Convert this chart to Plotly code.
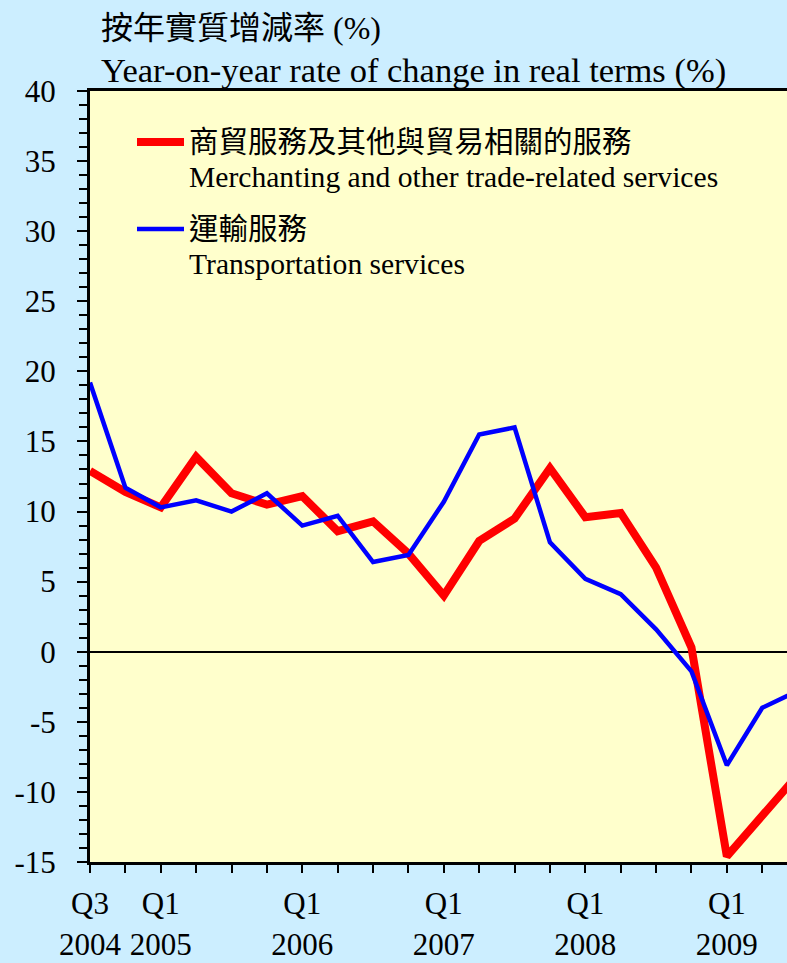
## 商貿服務 / 運輸服務 按年實質增減率
import plotly.graph_objects as go

quarters = ["Q3 2004", "Q4 2004", "Q1 2005", "Q2 2005", "Q3 2005", "Q4 2005",
            "Q1 2006", "Q2 2006", "Q3 2006", "Q4 2006", "Q1 2007", "Q2 2007",
            "Q3 2007", "Q4 2007", "Q1 2008", "Q2 2008", "Q3 2008", "Q4 2008",
            "Q1 2009", "Q2 2009", "Q3 2009"]
merchanting = [12.9, 11.4, 10.3, 13.9, 11.3, 10.5, 11.1, 8.6, 9.3, 7.0, 4.0,
               7.9, 9.5, 13.1, 9.6, 9.9, 6.0, 0.3, -14.6, -11.6, -8.8]
transport = [19.2, 11.7, 10.3, 10.8, 10.0, 11.3, 9.0, 9.7, 6.4, 6.9, 10.7,
             15.5, 16.0, 7.8, 5.2, 4.1, 1.6, -1.4, -8.1, -4.0, -2.8]

tick_pos = [0, 2, 6, 10, 14, 18]
tick_text = ["Q3<br>2004", "Q1<br>2005", "Q1<br>2006", "Q1<br>2007", "Q1<br>2008", "Q1<br>2009"]
y_ticks = [-15, -10, -5, 0, 5, 10, 15, 20, 25, 30, 35, 40]

names_zh = ["商貿服務及其他與貿易相關的服務", "運輸服務"]
names_en = ["Merchanting and other trade-related services", "Transportation services"]

FONT = "Liberation Serif, Noto Sans CJK TC, serif"
x = list(range(len(quarters)))
x_range = [0, 19.7]

fig = go.Figure()
fig.add_trace(go.Scatter(x=x, y=merchanting, mode="lines", name=names_en[0],
                         line=dict(color="#ff0000", width=8)))
fig.add_trace(go.Scatter(x=x, y=transport, mode="lines", name=names_en[1],
                         line=dict(color="#0000ff", width=4.5)))

fig.update_layout(
    width=787, height=963,
    margin=dict(l=90, r=0, t=91, b=101),
    paper_bgcolor="#cceeff", plot_bgcolor="#ffffcc",
    showlegend=False,
    font=dict(family=FONT, size=31, color="black"),
    xaxis=dict(range=x_range, tickmode="array", tickvals=tick_pos, ticktext=tick_text,
               ticks="", showgrid=False, zeroline=False,
               showline=True, linecolor="black", linewidth=3, mirror=True,
               minor=dict(ticks="outside", dtick=1, tick0=0, ticklen=8, tickwidth=2,
                          tickcolor="black"),
               ticklabelstandoff=12, tickfont=dict(size=31)),
    xaxis2=dict(range=x_range, overlaying="x", anchor="y", side="bottom",
                tickmode="linear", tick0=0, dtick=4, ticks="outside", ticklen=13,
                tickwidth=2, tickcolor="black", showticklabels=False,
                showgrid=False, zeroline=False, showline=False),
    yaxis=dict(range=[-15, 40], tickmode="array", tickvals=y_ticks,
               ticktext=[str(v) for v in y_ticks],
               ticks="outside", ticklen=10,
               tickwidth=2, tickcolor="black", showgrid=False,
               zeroline=True, zerolinecolor="black", zerolinewidth=2,
               showline=True, linecolor="black", linewidth=3,
               minor=dict(ticks="outside", dtick=1, tick0=0, ticklen=8, tickwidth=2,
                          tickcolor="black"),
               ticklabelstandoff=15, tickfont=dict(size=31)),
)

def px_x(p):
    return (p - 90) / 697

def px_y(p):
    return (862 - p) / 771

# title lines
fig.add_annotation(x=px_x(99), y=px_y(28), xref="paper", yref="paper",
                   xanchor="left", yanchor="middle", showarrow=False,
                   text="按年實質增減率 (%)", font=dict(size=32))
fig.add_annotation(x=px_x(99), y=px_y(70), xref="paper", yref="paper",
                   xanchor="left", yanchor="middle", showarrow=False,
                   text="Year-on-year rate of change in real terms (%)", font=dict(size=34.5))

# legend (drawn by hand so the key line sits on the first line of text)
for i, (col, w) in enumerate([("#ff0000", 8), ("#0000ff", 4.5)]):
    y0 = 142 + i * 87
    fig.add_shape(type="line", xref="paper", yref="paper",
                  x0=px_x(137), x1=px_x(184), y0=px_y(y0), y1=px_y(y0),
                  line=dict(color=col, width=w))
    fig.add_annotation(x=px_x(187), y=px_y(y0), xref="paper", yref="paper",
                       xanchor="left", yanchor="middle", showarrow=False,
                       text=names_zh[i], font=dict(size=29.5))
    fig.add_annotation(x=px_x(187), y=px_y(y0 + 35), xref="paper", yref="paper",
                       xanchor="left", yanchor="middle", showarrow=False,
                       text=names_en[i], font=dict(size=29.6))

fig.write_html("out.html", config={"displayModeBar": False},
               post_script="document.body.style.margin='0';")
